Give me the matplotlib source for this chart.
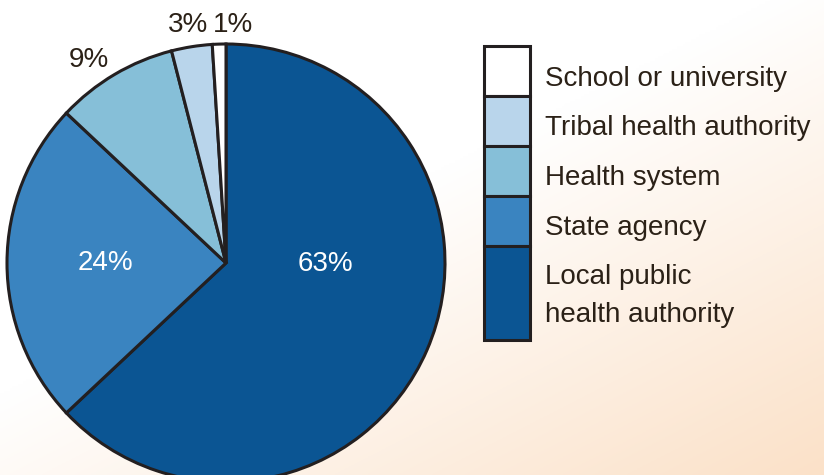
import numpy as np
import matplotlib.pyplot as plt
from matplotlib.patches import Rectangle

labels = ["Local public\nhealth authority", "State agency", "Health system",
          "Tribal health authority", "School or university"]
shares = [63, 24, 9, 3, 1]
pct_labels = ["63%", "24%", "9%", "3%", "1%"]
colors = ["#0b5593", "#3a84c0", "#86bfd8", "#b9d5eb", "#ffffff"]
edge = "#231f20"
txt = "#2b2117"

plt.rcParams['font.family'] = ['Liberation Sans', 'DejaVu Sans']

W, H = 824, 475
fig = plt.figure(figsize=(W / 100, H / 100), dpi=100)

# peach gradient background, white top-left -> peach bottom-right
bg = fig.add_axes([0, 0, 1, 1])
yy, xx = np.mgrid[0:1:200j, 0:1:300j]   # row 0 = top
t = np.clip((xx * 0.8 + yy * 0.9 - 0.75) / 0.95, 0, 1)
c0 = np.array([1.0, 1.0, 1.0])
c1 = np.array([0xfb, 0xe1, 0xc8]) / 255
img = c0[None, None, :] * (1 - t[..., None]) + c1[None, None, :] * t[..., None]
bg.imshow(img, extent=[0, 1, 0, 1], aspect='auto', origin='upper')
bg.axis("off")

# main axes in pixel units (y up)
cx, cy, r = 226, 263, 219
ax = fig.add_axes([0, 0, 1, 1])
ax.patch.set_alpha(0)
ax.pie(shares, colors=colors, startangle=90, counterclock=False,
       center=(cx, H - cy), radius=r,
       wedgeprops=dict(edgecolor=edge, linewidth=2.2))
ax.set_xlim(0, W)
ax.set_ylim(0, H)
ax.set_aspect('auto')
ax.axis("off")

# percentage labels (pixel positions, top-left origin)
pos = [(325, 264), (105, 263), (89, 60), (188, 25), (233, 25)]
pcol = ["white", "white", txt, txt, txt]
for s, (px, py), c in zip(pct_labels, pos, pcol):
    ax.text(px, H - py, s, color=c, fontsize=20, ha="center", va="center")

# legend: stacked boxes, top to bottom
lx, lw = 484, 46
tops = [46, 96, 146, 196, 246]
bots = [96, 146, 196, 246, 340]
bases = [86, 135, 185, 235, 322]
order = [4, 3, 2, 1, 0]
for t0, b0, bl, i in zip(tops, bots, bases, order):
    ax.add_patch(Rectangle((lx, H - b0), lw, b0 - t0, facecolor=colors[i],
                           edgecolor=edge, linewidth=2.2))
    ax.text(545, H - bl, labels[i], color=txt, fontsize=20,
            ha="left", va="baseline", linespacing=1.6)

fig.savefig("out.png", dpi=100)
